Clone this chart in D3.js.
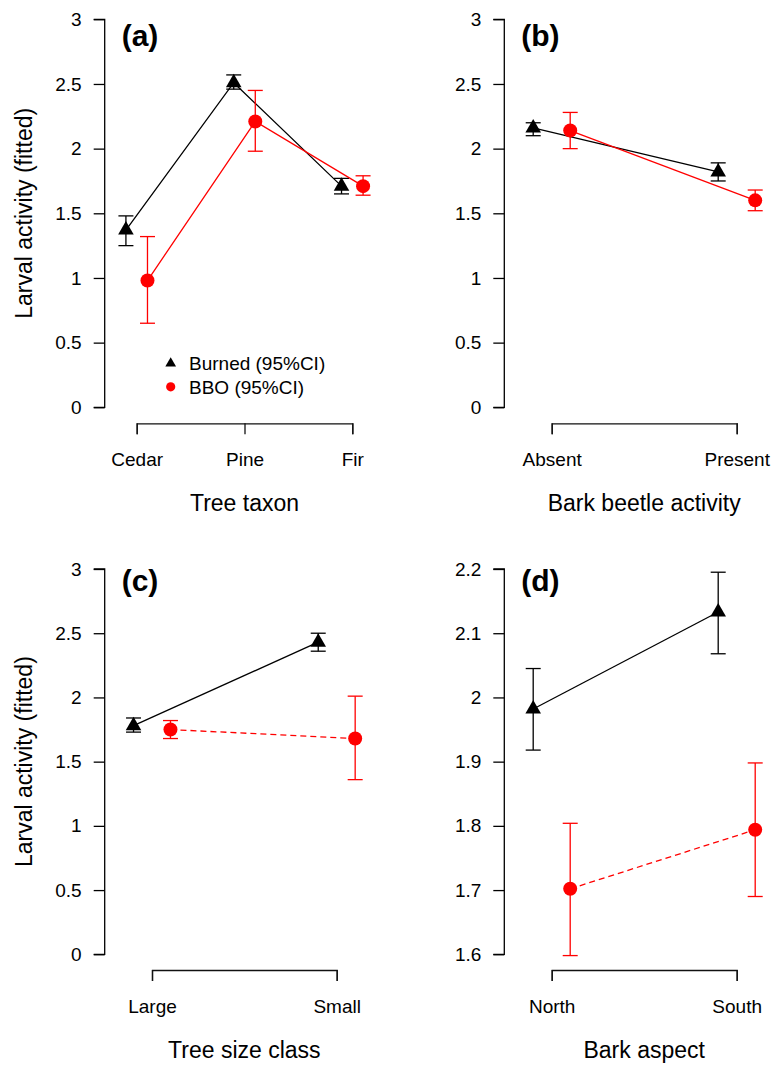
<!DOCTYPE html>
<html>
<head>
<meta charset="utf-8">
<script src="https://cdn.jsdelivr.net/npm/d3@7"></script>
<style>
  body { margin: 0; background: #fff; }
  svg text { font-family: "Liberation Sans", Arial, Helvetica, sans-serif; fill: #000; }
</style>
</head>
<body>
<div id="chart"></div>
<script>
// Daten
var catsA = ["Cedar", "Pine", "Fir"];
var burnedA = [1.37, 2.51, 1.71], burnedALo = [1.25, 2.46, 1.65], burnedAHi = [1.48, 2.57, 1.77];
var bboA = [0.98, 2.21, 1.71], bboALo = [0.65, 1.98, 1.64], bboAHi = [1.32, 2.45, 1.79];

var catsB = ["Absent", "Present"];
var burnedB = [2.16, 1.82], burnedBLo = [2.10, 1.75], burnedBHi = [2.20, 1.89];
var bboB = [2.14, 1.60], bboBLo = [2.00, 1.52], bboBHi = [2.28, 1.68];

var catsC = ["Large", "Small"];
var burnedC = [1.78, 2.43], burnedCLo = [1.73, 2.36], burnedCHi = [1.84, 2.50];
var bboC = [1.75, 1.68], bboCLo = [1.68, 1.36], bboCHi = [1.82, 2.01];

var catsD = ["North", "South"];
var burnedD = [1.982, 2.133], burnedDLo = [1.918, 2.068], burnedDHi = [2.045, 2.195];
var bboD = [1.702, 1.794], bboDLo = [1.598, 1.690], bboDHi = [1.804, 1.898];

var yTicksABC = [0, 0.5, 1, 1.5, 2, 2.5, 3];
var yTicksD = [1.6, 1.7, 1.8, 1.9, 2, 2.1, 2.2];

var yTitle = "Larval activity (fitted)";
var legendLabels = ["Burned (95%CI)", "BBO (95%CI)"];

var width = 772, height = 1065;

var svg = d3.select("#chart").append("svg")
    .attr("width", width)
    .attr("height", height);

svg.append("rect").attr("width", width).attr("height", height).attr("fill", "#fff");

function series(vals, lo, hi) {
    return vals.map(function (v, i) { return {i: i, v: v, lo: lo[i], hi: hi[i]}; });
}

var panels = [
    {label: "(a)", cats: catsA, title: "Tree taxon", yTicks: yTicksABC, yDomain: [0, 3],
     axisX: 104.7, yTop: 19.3, yBot: 407.3, xRange: [136.7, 352.3], xAxisY: 423.3, labelY: 46, dashed: false, yLab: true,
     burned: series(burnedA, burnedALo, burnedAHi), bbo: series(bboA, bboALo, bboAHi)},
    {label: "(b)", cats: catsB, title: "Bark beetle activity", yTicks: yTicksABC, yDomain: [0, 3],
     axisX: 504.3, yTop: 19.3, yBot: 407.3, xRange: [551.7, 736.7], xAxisY: 423.3, labelY: 46, dashed: false, yLab: false,
     burned: series(burnedB, burnedBLo, burnedBHi), bbo: series(bboB, bboBLo, bboBHi)},
    {label: "(c)", cats: catsC, title: "Tree size class", yTicks: yTicksABC, yDomain: [0, 3],
     axisX: 104.7, yTop: 569, yBot: 954.3, xRange: [152, 336.7], xAxisY: 970, labelY: 591, dashed: true, yLab: true,
     burned: series(burnedC, burnedCLo, burnedCHi), bbo: series(bboC, bboCLo, bboCHi)},
    {label: "(d)", cats: catsD, title: "Bark aspect", yTicks: yTicksD, yDomain: [1.6, 2.2],
     axisX: 504.3, yTop: 569, yBot: 954.3, xRange: [551.7, 736.7], xAxisY: 970, labelY: 591, dashed: true, yLab: false,
     burned: series(burnedD, burnedDLo, burnedDHi), bbo: series(bboD, bboDLo, bboDHi)}
];

var triangle = d3.symbol().type(d3.symbolTriangle).size(105);
var triangleSmall = d3.symbol().type(d3.symbolTriangle).size(50);

panels.forEach(function (p) {
    var g = svg.append("g");

    var y = d3.scaleLinear().domain(p.yDomain).range([p.yBot, p.yTop]);
    var xCat = d3.scalePoint().domain(p.cats).range(p.xRange);
    var x = d3.scaleLinear().domain([0, p.cats.length - 1]).range(p.xRange);

    // y-Achse
    var yAxis = g.append("g")
        .attr("transform", "translate(" + p.axisX + ",0)")
        .call(d3.axisLeft(y).tickValues(p.yTicks).tickSize(11).tickPadding(12)
            .tickFormat(function (d) { return String(+d.toFixed(2)); }));
    yAxis.selectAll("path, line").attr("stroke", "#000").attr("stroke-width", 1.3);
    yAxis.selectAll("text").style("font-size", "19px").attr("fill", "#000");
    yAxis.select(".domain").attr("d", "M-11," + p.yBot + "H0V" + p.yTop + "H-11");

    // x-Achse (Klammer)
    var xAxis = g.append("g")
        .attr("transform", "translate(0," + p.xAxisY + ")")
        .call(d3.axisBottom(xCat).tickSize(11).tickPadding(18.5));
    xAxis.selectAll("path, line").attr("stroke", "#111").attr("stroke-width", 1.3);
    xAxis.selectAll("text").style("font-size", "19px").attr("fill", "#000");

    // Achsentitel
    g.append("text")
        .attr("x", (p.xRange[0] + p.xRange[1]) / 2)
        .attr("y", p.xAxisY + 88)
        .attr("text-anchor", "middle")
        .style("font-size", "23px")
        .text(p.title);

    if (p.yLab) {
        g.append("text")
            .attr("transform", "translate(32," + ((p.yTop + p.yBot) / 2) + ") rotate(-90)")
            .attr("text-anchor", "middle")
            .style("font-size", "23px")
            .text(yTitle);
    }

    // Panel-Label
    g.append("text")
        .attr("x", p.axisX + 17)
        .attr("y", p.labelY)
        .style("font-size", "30px")
        .style("font-weight", "bold")
        .text(p.label);

    function drawSeries(data, off, color, dash, isTri) {
        var line = d3.line()
            .x(function (d) { return x(d.i + off); })
            .y(function (d) { return y(d.v); });
        g.append("path")
            .datum(data)
            .attr("d", line)
            .attr("fill", "none")
            .attr("stroke", color)
            .attr("stroke-width", 1.3)
            .attr("stroke-dasharray", dash ? "6,4" : null);

        var bars = g.append("g").selectAll("g").data(data).enter().append("g")
            .attr("stroke", color).attr("stroke-width", 1.3);
        bars.append("line")
            .attr("x1", function (d) { return x(d.i + off); })
            .attr("x2", function (d) { return x(d.i + off); })
            .attr("y1", function (d) { return y(d.lo); })
            .attr("y2", function (d) { return y(d.hi); });
        ["lo", "hi"].forEach(function (k) {
            bars.append("line")
                .attr("x1", function (d) { return x(d.i + off) - 7.5; })
                .attr("x2", function (d) { return x(d.i + off) + 7.5; })
                .attr("y1", function (d) { return y(d[k]); })
                .attr("y2", function (d) { return y(d[k]); });
        });

        if (isTri) {
            g.append("g").selectAll("path").data(data).enter().append("path")
                .attr("d", triangle)
                .attr("transform", function (d) { return "translate(" + x(d.i + off) + "," + y(d.v) + ")"; })
                .attr("fill", color);
        } else {
            g.append("g").selectAll("circle").data(data).enter().append("circle")
                .attr("cx", function (d) { return x(d.i + off); })
                .attr("cy", function (d) { return y(d.v); })
                .attr("r", 7)
                .attr("fill", color);
        }
    }

    drawSeries(p.burned, -0.1, "#000", false, true);
    drawSeries(p.bbo, 0.1, "#ff0000", p.dashed, false);
});

// Legende in (a)
var legStep = 23.3;
var leg = svg.append("g").attr("transform", "translate(170.7,363.5)");
leg.append("path").attr("d", triangleSmall).attr("fill", "#000");
leg.append("circle").attr("cx", 0).attr("cy", legStep).attr("r", 4.6).attr("fill", "#ff0000");
leg.selectAll("text").data(legendLabels).enter().append("text")
    .attr("x", 18.3)
    .attr("y", function (d, i) { return 6.8 + i * legStep; })
    .style("font-size", "19px")
    .text(function (d) { return d; });
</script>
</body>
</html>
